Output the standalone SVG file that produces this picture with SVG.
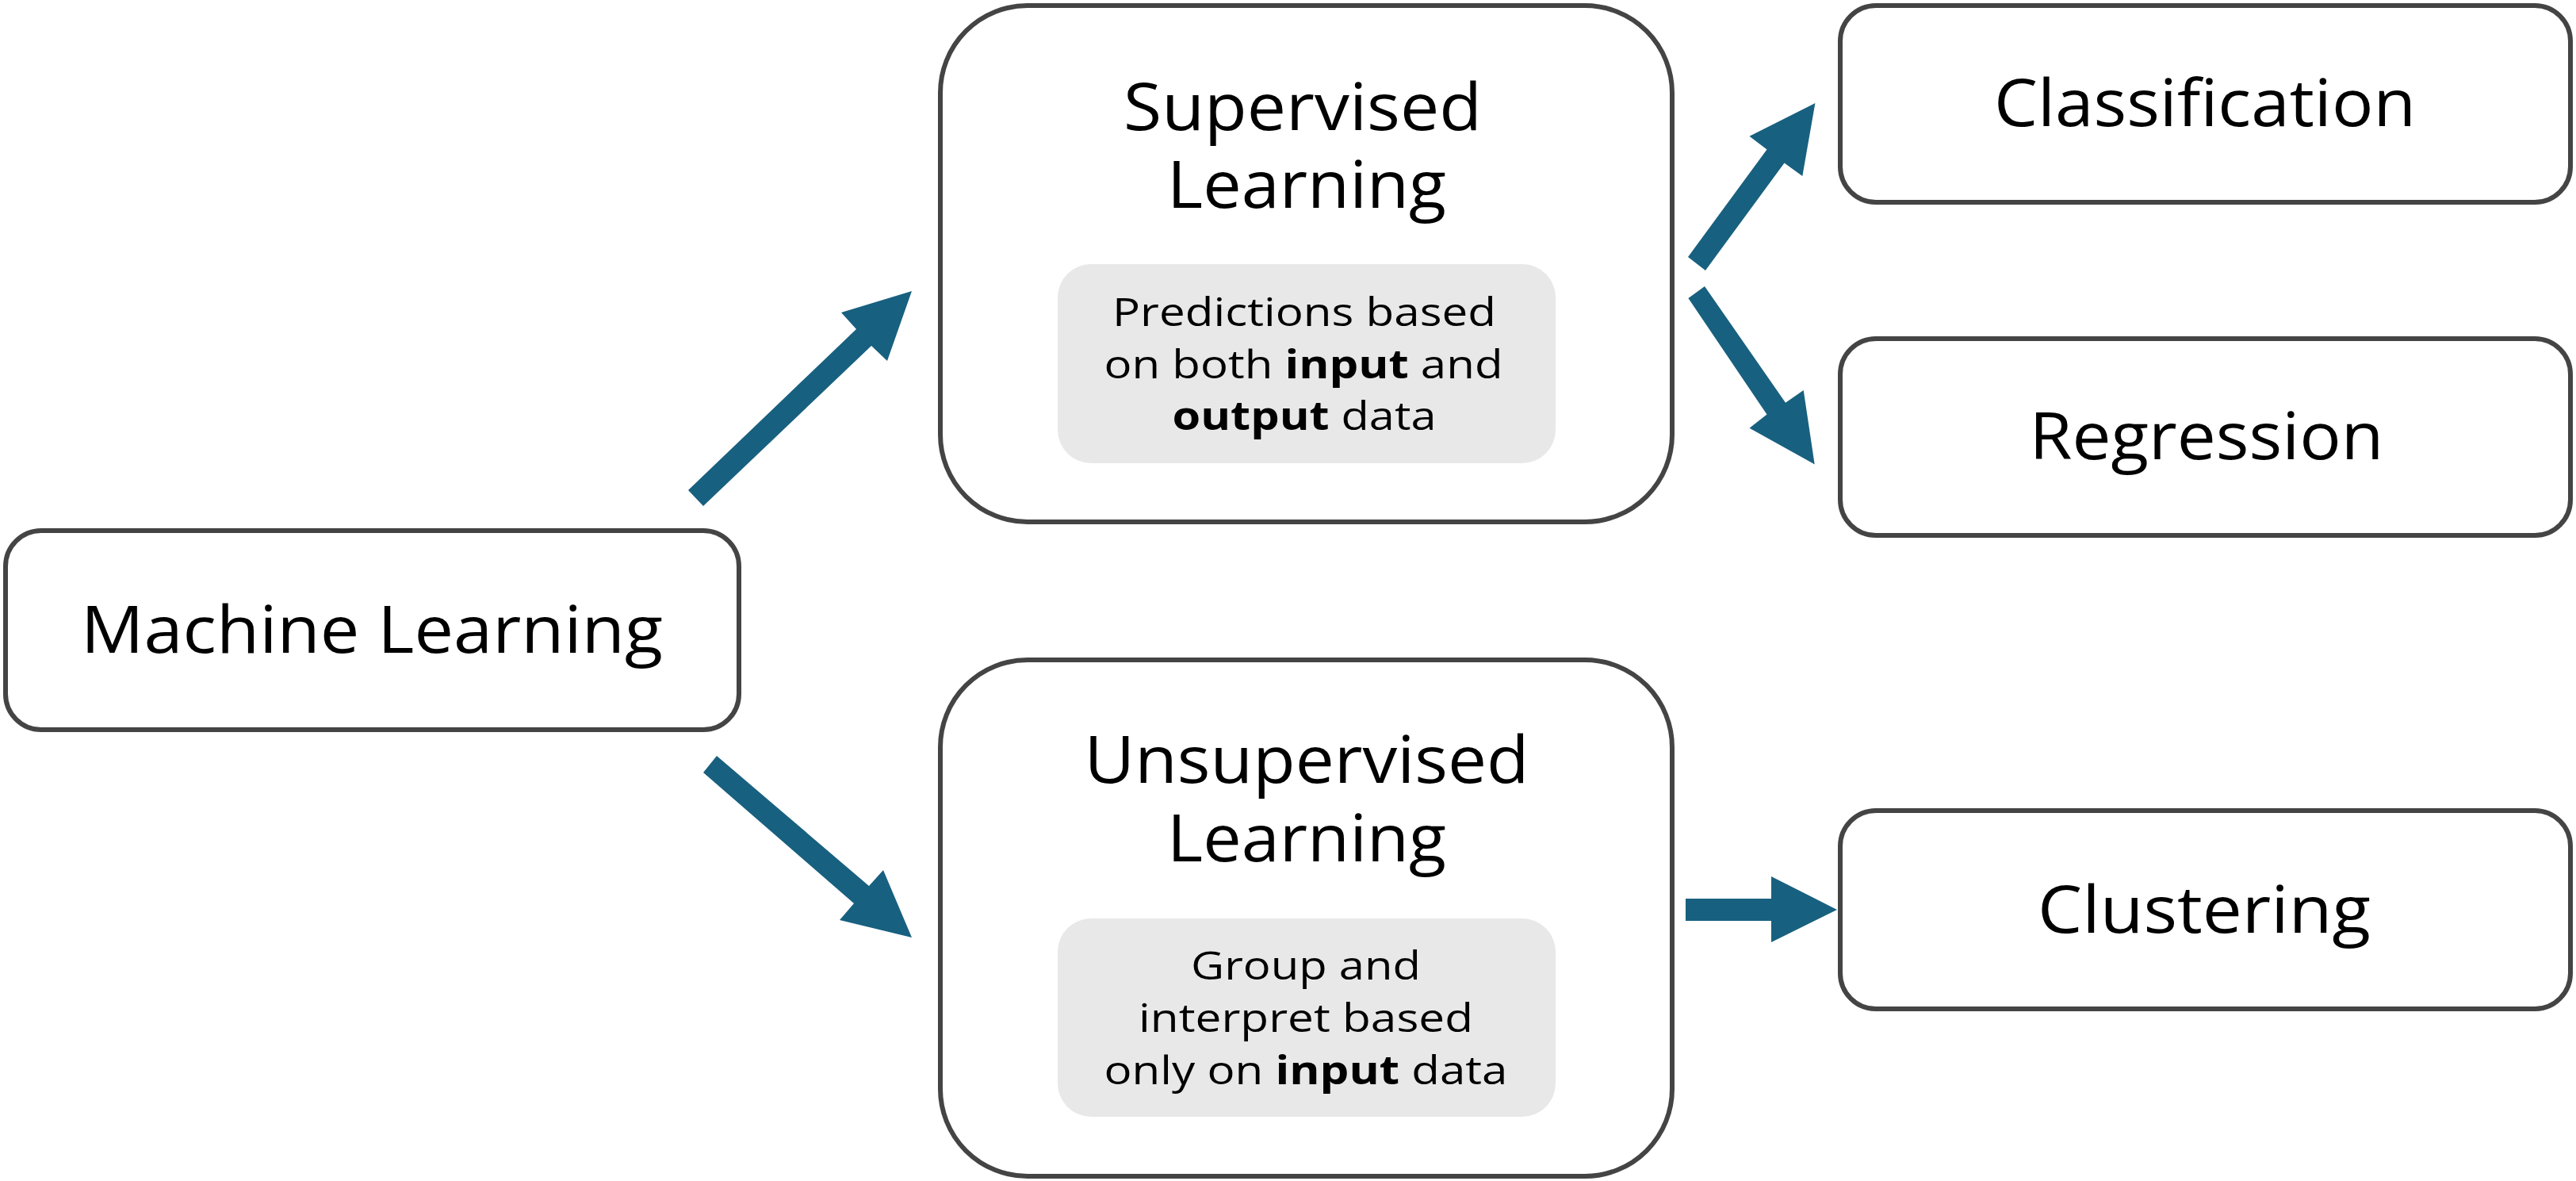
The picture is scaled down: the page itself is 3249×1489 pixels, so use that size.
<svg xmlns="http://www.w3.org/2000/svg" width="3249" height="1489" viewBox="0 0 3249 1489">
<style>
.box{fill:#ffffff;stroke:#444444;stroke-width:6}
.note{fill:#e8e8e8;stroke:none}
.big{font-family:"Open Sans","Noto Sans","Liberation Sans",sans-serif;font-size:83px;fill:#000000;text-anchor:middle}
.small{font-family:"Open Sans","Noto Sans","Liberation Sans",sans-serif;font-size:50px;fill:#000000;text-anchor:middle}
.b{font-weight:700}
.arrow{fill:#18607f;stroke:none}
</style>
<rect width="3249" height="1489" fill="#ffffff"/>
<g id="connectors">
<polygon class="arrow" points="868,618 1080,415 1061,394 1150,367 1119,455 1099,436 887,638"/>
<polygon class="arrow" points="904,953 1096,1117 1114,1097 1150,1182 1059,1160 1077,1139 887,974"/>
<polygon class="arrow" points="2129,324 2228.5,188.4 2206.5,171.8 2289.4,130.1 2273.3,222 2250.5,205.5 2151,341"/>
<polygon class="arrow" points="2150,361 2252,507.8 2274.7,492.1 2288.7,585.5 2206.5,539.7 2228.5,522.6 2129.4,376"/>
<polygon class="arrow" points="2126,1133 2234,1133 2234,1105 2317,1147 2234,1188 2234,1161 2126,1161"/>
</g>
<g id="machine-learning">
<rect class="box" x="7" y="669" width="925" height="251" rx="45"/>
<text class="big" x="469" y="823" textLength="734" lengthAdjust="spacingAndGlyphs">Machine Learning</text>
</g>
<g id="supervised-learning">
<rect class="box" x="1186" y="7" width="923" height="651" rx="110"/>
<text class="big"><tspan x="1643" y="164" textLength="452" lengthAdjust="spacingAndGlyphs">Supervised</tspan><tspan x="1648" y="262" textLength="352" lengthAdjust="spacingAndGlyphs">Learning</tspan></text>
<rect class="note" x="1334" y="333" width="628" height="251" rx="42"/>
<text class="small" x="1645" y="411" textLength="484" lengthAdjust="spacingAndGlyphs">Predictions based</text>
<text class="small" x="1644" y="477" textLength="503" lengthAdjust="spacingAndGlyphs">on both <tspan class="b">input</tspan> and</text>
<text class="small" x="1645" y="542" textLength="333" lengthAdjust="spacingAndGlyphs"><tspan class="b">output</tspan> data</text>
</g>
<g id="unsupervised-learning">
<rect class="box" x="1186" y="832" width="923" height="651" rx="110"/>
<text class="big"><tspan x="1648" y="987" textLength="561" lengthAdjust="spacingAndGlyphs">Unsupervised</tspan><tspan x="1648" y="1086" textLength="352" lengthAdjust="spacingAndGlyphs">Learning</tspan></text>
<rect class="note" x="1334" y="1158" width="628" height="250" rx="42"/>
<text class="small" x="1647" y="1235" textLength="290" lengthAdjust="spacingAndGlyphs">Group and</text>
<text class="small" x="1647" y="1301" textLength="422" lengthAdjust="spacingAndGlyphs">interpret based</text>
<text class="small" x="1647" y="1367" textLength="509" lengthAdjust="spacingAndGlyphs">only on <tspan class="b">input</tspan> data</text>
</g>
<g id="classification">
<rect class="box" x="2321" y="7" width="921" height="248" rx="45"/>
<text class="big" x="2781" y="159" textLength="532" lengthAdjust="spacingAndGlyphs">Classification</text>
</g>
<g id="regression">
<rect class="box" x="2321" y="427" width="921" height="248" rx="45"/>
<text class="big" x="2783" y="579" textLength="447" lengthAdjust="spacingAndGlyphs">Regression</text>
</g>
<g id="clustering">
<rect class="box" x="2321" y="1022" width="921" height="250" rx="45"/>
<text class="big" x="2780" y="1176" textLength="420" lengthAdjust="spacingAndGlyphs">Clustering</text>
</g>
</svg>
